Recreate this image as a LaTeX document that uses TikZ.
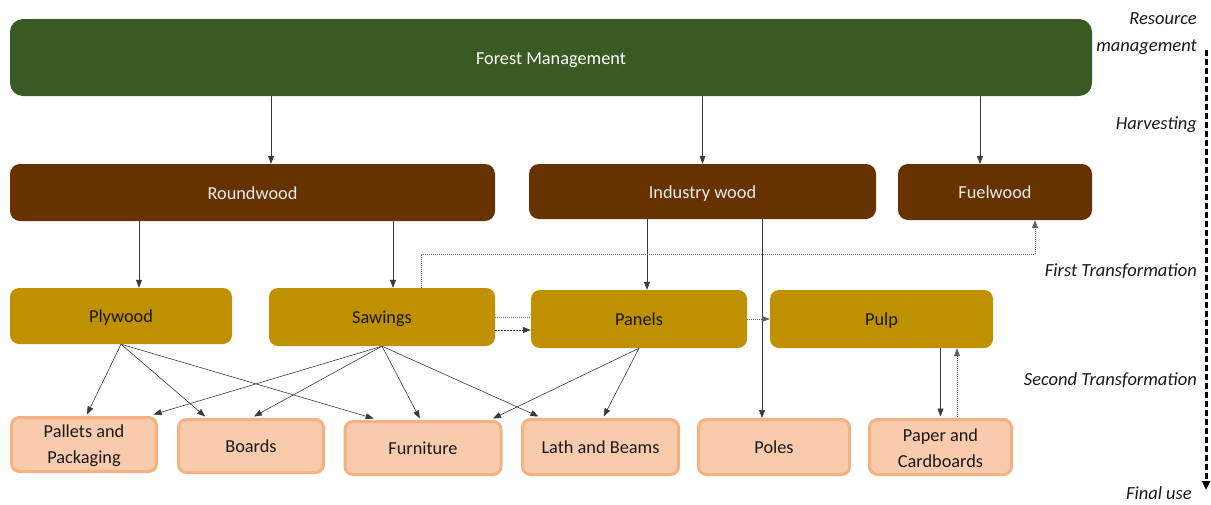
\documentclass[tikz,border=0pt]{standalone}
\usepackage{fontspec}
\setmainfont{Carlito}
\usetikzlibrary{arrows.meta,calc}
\definecolor{fmgreen}{HTML}{3A5A23}
\definecolor{wbrown}{HTML}{663300}
\definecolor{wgold}{HTML}{BF9000}
\definecolor{pfill}{HTML}{F8CBAD}
\definecolor{pline}{HTML}{F4B183}
\definecolor{arrc}{HTML}{3A3A3A}
\tikzset{
  lbl/.style={font=\fontsize{18.3}{26}\selectfont, inner sep=0pt, align=center},
  one/.style={text height=15pt, text depth=2pt},
  greenbox/.style={lbl, one, fill=fmgreen, text=white, rounded corners=13pt},
  brownbox/.style={lbl, one, fill=wbrown, text=white!92!black, rounded corners=10pt},
  goldbox/.style={lbl, one, fill=wgold, text=black!90, rounded corners=9pt},
  peachbox/.style={lbl, fill=pfill, draw=pline, line width=3pt, text=black!90, rounded corners=8pt},
  arr/.style={draw=arrc, line width=0.6pt, -{Triangle[length=8pt,width=6pt]}},
  dotarr/.style={draw=arrc!80, line width=0.6pt, dash pattern=on 1pt off 1pt, -{Triangle[length=8pt,width=6pt]}},
  dotline/.style={draw=arrc!70, line width=0.6pt, dash pattern=on 1pt off 1pt},
  stagelbl/.style={font=\fontsize{18.5}{22}\selectfont\itshape, anchor=east, inner sep=0pt, text=black!90, text height=14pt, text depth=3pt},
}
\begin{document}
\begin{tikzpicture}[x=1pt,y=-1pt]
\useasboundingbox (0,0) rectangle (1211,504);
% top
\node[greenbox, minimum width=1082pt, minimum height=77pt] (fm) at (551,57.5) {Forest Management};
% harvesting
\node[brownbox, minimum width=485pt, minimum height=57pt] (rw) at (252.5,192.5) {Roundwood};
\node[brownbox, minimum width=347pt, minimum height=55pt] (iw) at (702.5,191.5) {Industry wood};
\node[brownbox, minimum width=194pt, minimum height=56pt] (fw) at (995,192) {Fuelwood};
% first transformation
\node[goldbox, minimum width=222pt, minimum height=56pt] (ply) at (121,316) {Plywood};
\node[goldbox, minimum width=226pt, minimum height=58pt] (saw) at (382,317) {Sawings};
\node[goldbox, minimum width=216pt, minimum height=58pt] (pan) at (639,319) {Panels};
\node[goldbox, minimum width=223pt, minimum height=58pt] (pulp) at (881.5,319) {Pulp};
% final products
\node[peachbox, minimum width=145pt, minimum height=54pt] (pal) at (84,444.5) {\rule{0pt}{16pt}Pallets and\\Packaging};
\node[peachbox, one, minimum width=145pt, minimum height=53pt] (brd) at (251,446) {Boards};
\node[peachbox, one, minimum width=156pt, minimum height=53pt] (fur) at (423,448) {Furniture};
\node[peachbox, one, minimum width=156pt, minimum height=55pt] (lath) at (600.5,447) {Lath and Beams};
\node[peachbox, one, minimum width=151pt, minimum height=55pt] (pol) at (774,447) {Poles};
\node[peachbox, minimum width=142pt, minimum height=55pt] (pap) at (940.5,447) {\rule{0pt}{16pt}Paper and\\Cardboards};
% stage labels
\node[stagelbl] (s1) at (1197,19) {Resource};
\node[stagelbl] (s2) at (1197,46) {management};
\node[stagelbl] (s3) at (1197,124) {Harvesting};
\node[stagelbl] (s4) at (1197,271) {First Transformation};
\node[stagelbl] (s5) at (1197,380) {Second Transformation};
\node[stagelbl] (s6) at (1192,494) {Final use};
\coordinate (tlA) at (1206,50);
\coordinate (tlB) at (1206,490);
\draw[line width=3pt, dash pattern=on 6pt off 3pt, -{Triangle[length=9pt,width=8pt]}] (tlA) -- (tlB);
% connector anchor points
\coordinate (cRW) at ([xshift=18.5pt]rw.north);
\coordinate (cFW) at ([xshift=-15pt]fw.north);
\coordinate (cPLY) at ([xshift=18pt]ply.north);
\coordinate (cSAW) at ([xshift=11pt]saw.north);
\coordinate (cPAN) at ([xshift=8pt]pan.north);
\coordinate (cPOL) at ([xshift=-12pt]pol.north);
\coordinate (cSAWup) at ([xshift=39pt]saw.north);
\coordinate (cFWdn) at ([xshift=40pt]fw.south);
\coordinate (cPAPup) at ([xshift=16.5pt]pap.north);
% harvesting arrows
\draw[arr] (fm.south -| cRW) -- (cRW);
\draw[arr] (fm.south -| iw.north) -- (iw.north);
\draw[arr] (fm.south -| cFW) -- (cFW);
% first transformation arrows
\draw[arr] (rw.south -| cPLY) -- (cPLY);
\draw[arr] (rw.south -| cSAW) -- (cSAW);
\draw[arr] (iw.south -| cPAN) -- (cPAN);
\draw[arr] (iw.south -| cPOL) -- (cPOL);
% sawings by-products to fuelwood
\draw[dotarr] (cSAWup) -- ([yshift=34pt]cSAWup) -| (cFWdn);
% sawings to panels
\draw[dotline] (saw.east) -- (saw.east -| pan.west);
\coordinate (cSAWe) at ([yshift=-13pt]saw.east);
\draw[arr, dash pattern=on 2pt off 1pt] (cSAWe) -- (cSAWe -| pan.west);
% panels to pulp
\draw[dotarr] (pan.east) -- (pan.east -| pulp.west);
% pulp and paper
\draw[arr] (pulp.south -| pap.north) -- ([yshift=1.5pt]pap.north);
\draw[dotarr] ([yshift=1.5pt]cPAPup) -- (pulp.south -| cPAPup);
% second transformation arrows
\draw[arr] (ply.south) -- ([yshift=1.5pt]$(pal.north west)!0.52!(pal.north east)$);
\draw[arr] (ply.south) -- ([yshift=1.5pt]$(brd.north west)!0.19!(brd.north east)$);
\draw[arr] (ply.south) -- ([yshift=1.5pt]$(fur.north west)!0.19!(fur.north east)$);
\draw[arr] (saw.south) -- ([yshift=1.5pt]$(pal.north west)!0.97!(pal.north east)$);
\draw[arr] (saw.south) -- ([yshift=1.5pt]$(brd.north west)!0.52!(brd.north east)$);
\draw[arr] (saw.south) -- ([yshift=1.5pt]$(fur.north west)!0.48!(fur.north east)$);
\draw[arr] (saw.south) -- ([yshift=1.5pt]$(lath.north west)!0.11!(lath.north east)$);
\draw[arr] (pan.south) -- ([yshift=1.5pt]$(fur.north west)!0.94!(fur.north east)$);
\draw[arr] (pan.south) -- ([yshift=1.5pt]$(lath.north west)!0.52!(lath.north east)$);
\end{tikzpicture}
\end{document}
